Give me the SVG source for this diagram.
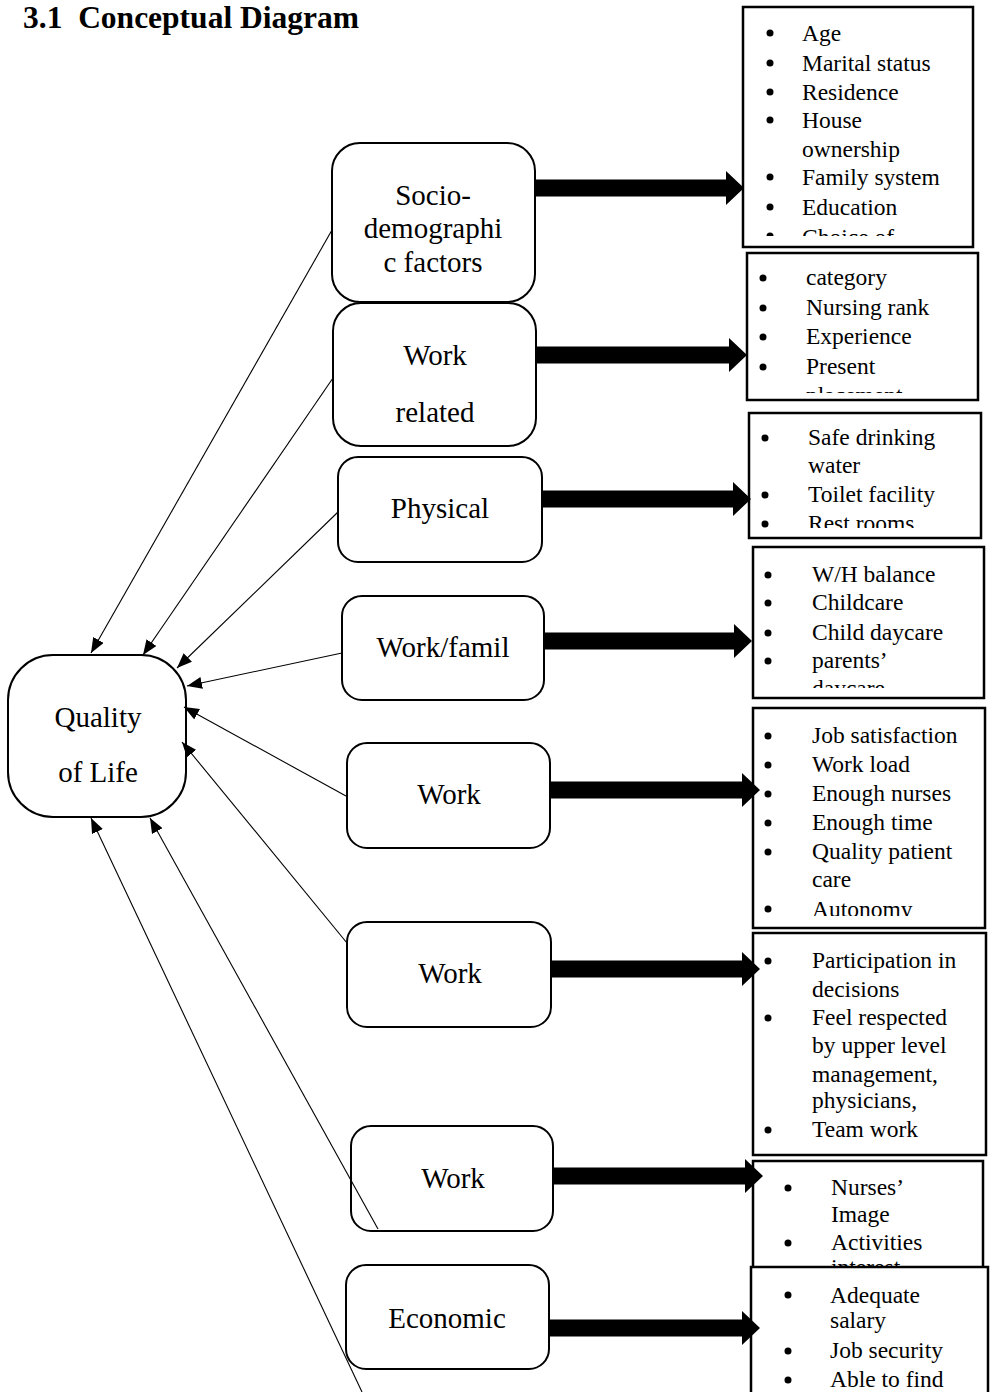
<svg xmlns="http://www.w3.org/2000/svg" width="993" height="1392" viewBox="0 0 993 1392">
<style>
.title{font-family:"Liberation Serif","Times New Roman",serif;font-size:31.5px;font-weight:bold;fill:#000}
.node{fill:#fff;stroke:#000;stroke-width:2}
.nt{font-family:"Liberation Serif","Times New Roman",serif;font-size:29px;fill:#000;text-anchor:middle}
.box{fill:#fff;stroke:#000;stroke-width:2.5}
.bt{font-family:"Liberation Serif","Times New Roman",serif;font-size:23.5px;fill:#000}
.b{fill:#000}
.thin{stroke:#000;stroke-width:1.1;fill:none;marker-end:url(#ah)}
.blk{fill:#000;stroke:none}
</style>
<defs>
<marker id="ah" markerUnits="userSpaceOnUse" markerWidth="15" markerHeight="12" refX="15" refY="6" orient="auto">
<path d="M0,0 L15,6 L0,12 z" fill="#000"/>
</marker>
<clipPath id="c1"><rect x="743" y="7" width="230" height="229"/></clipPath>
<clipPath id="c2"><rect x="747" y="253" width="231" height="140"/></clipPath>
<clipPath id="c3"><rect x="749" y="413" width="232" height="115"/></clipPath>
<clipPath id="c4"><rect x="753" y="547" width="231" height="141"/></clipPath>
<clipPath id="c5"><rect x="753" y="708" width="232" height="208"/></clipPath>
<clipPath id="c7"><rect x="753" y="1161" width="230" height="106"/></clipPath>
<clipPath id="c8"><rect x="751" y="1267" width="237" height="125"/></clipPath>
</defs>

<text class="title" x="23" y="28" xml:space="preserve">3.1  Conceptual Diagram</text>

<g id="qol">
<rect class="node" x="8" y="655" width="178" height="162" rx="45"/>
<text class="nt" x="98" y="727">Quality</text>
<text class="nt" x="98" y="782">of Life</text>
</g>

<g id="n-socio">
<rect class="node" x="332" y="143" width="203" height="159" rx="28"/>
<text class="nt" x="433" y="205">Socio-</text>
<text class="nt" x="433" y="238">demographi</text>
<text class="nt" x="433" y="272">c factors</text>
</g>
<g id="n-workrel">
<rect class="node" x="333" y="303" width="203" height="143" rx="28"/>
<text class="nt" x="435" y="365">Work</text>
<text class="nt" x="435" y="422">related</text>
</g>
<g id="n-physical">
<rect class="node" x="338" y="457" width="204" height="105" rx="20"/>
<text class="nt" x="440" y="518">Physical</text>
</g>
<g id="n-workfam">
<rect class="node" x="342" y="596" width="202" height="104" rx="20"/>
<text class="nt" x="443" y="657">Work/famil</text>
</g>
<g id="n-work1">
<rect class="node" x="347" y="743" width="203" height="105" rx="20"/>
<text class="nt" x="449" y="804">Work</text>
</g>
<g id="n-work2">
<rect class="node" x="347" y="922" width="204" height="105" rx="20"/>
<text class="nt" x="450" y="983">Work</text>
</g>
<g id="n-work3">
<rect class="node" x="351" y="1126" width="202" height="105" rx="20"/>
<text class="nt" x="453" y="1188">Work</text>
</g>
<g id="n-econ">
<rect class="node" x="346" y="1265" width="203" height="104" rx="20"/>
<text class="nt" x="447" y="1328">Economic</text>
</g>

<g id="box-socio">
<rect class="box" x="743" y="7" width="230" height="240"/>
<g clip-path="url(#c1)">
<circle class="b" cx="770" cy="33" r="3.5"/><text class="bt" x="802" y="41">Age</text>
<circle class="b" cx="770" cy="63" r="3.5"/><text class="bt" x="802" y="71">Marital status</text>
<circle class="b" cx="770" cy="92" r="3.5"/><text class="bt" x="802" y="100">Residence</text>
<circle class="b" cx="770" cy="120" r="3.5"/><text class="bt" x="802" y="128">House</text>
<text class="bt" x="802" y="157">ownership</text>
<circle class="b" cx="770" cy="177" r="3.5"/><text class="bt" x="802" y="185">Family system</text>
<circle class="b" cx="770" cy="207" r="3.5"/><text class="bt" x="802" y="215">Education</text>
<circle class="b" cx="770" cy="236" r="3.5"/><text class="bt" x="802" y="245">Choice of</text>
</g>
</g>
<g id="box-workrel">
<rect class="box" x="747" y="253" width="231" height="147"/>
<g clip-path="url(#c2)">
<circle class="b" cx="763" cy="278" r="3.5"/><text class="bt" x="806" y="285">category</text>
<circle class="b" cx="763" cy="308" r="3.5"/><text class="bt" x="806" y="315">Nursing rank</text>
<circle class="b" cx="763" cy="337" r="3.5"/><text class="bt" x="806" y="344">Experience</text>
<circle class="b" cx="763" cy="367" r="3.5"/><text class="bt" x="806" y="374">Present</text>
<text class="bt" x="806" y="403">placement</text>
</g>
</g>
<g id="box-physical">
<rect class="box" x="749" y="413" width="232" height="125"/>
<g clip-path="url(#c3)">
<circle class="b" cx="765" cy="438" r="3.5"/><text class="bt" x="808" y="445">Safe drinking</text>
<text class="bt" x="808" y="473">water</text>
<circle class="b" cx="765" cy="495" r="3.5"/><text class="bt" x="808" y="502">Toilet facility</text>
<circle class="b" cx="765" cy="524" r="3.5"/><text class="bt" x="808" y="531">Rest rooms</text>
</g>
</g>
<g id="box-workfam">
<rect class="box" x="753" y="547" width="231" height="151"/>
<g clip-path="url(#c4)">
<circle class="b" cx="768" cy="575" r="3.5"/><text class="bt" x="812" y="582">W/H balance</text>
<circle class="b" cx="768" cy="603" r="3.5"/><text class="bt" x="812" y="610">Childcare</text>
<circle class="b" cx="768" cy="633" r="3.5"/><text class="bt" x="812" y="640">Child daycare</text>
<circle class="b" cx="768" cy="661" r="3.5"/><text class="bt" x="812" y="668">parents’</text>
<text class="bt" x="812" y="696">daycare</text>
</g>
</g>
<g id="box-work1">
<rect class="box" x="753" y="708" width="232" height="220"/>
<g clip-path="url(#c5)">
<circle class="b" cx="768" cy="736" r="3.5"/><text class="bt" x="812" y="743">Job satisfaction</text>
<circle class="b" cx="768" cy="765" r="3.5"/><text class="bt" x="812" y="772">Work load</text>
<circle class="b" cx="768" cy="794" r="3.5"/><text class="bt" x="812" y="801">Enough nurses</text>
<circle class="b" cx="768" cy="823" r="3.5"/><text class="bt" x="812" y="830">Enough time</text>
<circle class="b" cx="768" cy="852" r="3.5"/><text class="bt" x="812" y="859">Quality patient</text>
<text class="bt" x="812" y="887">care</text>
<circle class="b" cx="768" cy="909" r="3.5"/><text class="bt" x="812" y="917">Autonomy</text>
</g>
</g>
<g id="box-work2">
<rect class="box" x="753" y="933" width="233" height="222"/>
<circle class="b" cx="768" cy="961" r="3.5"/><text class="bt" x="812" y="968">Participation in</text>
<text class="bt" x="812" y="997">decisions</text>
<circle class="b" cx="768" cy="1018" r="3.5"/><text class="bt" x="812" y="1025">Feel respected</text>
<text class="bt" x="812" y="1053">by upper level</text>
<text class="bt" x="812" y="1082">management,</text>
<text class="bt" x="812" y="1108">physicians,</text>
<circle class="b" cx="768" cy="1130" r="3.5"/><text class="bt" x="812" y="1137">Team work</text>
</g>
<g id="box-work3">
<rect class="box" x="753" y="1161" width="230" height="112"/>
<g clip-path="url(#c7)">
<circle class="b" cx="788" cy="1188" r="3.5"/><text class="bt" x="831" y="1195">Nurses’</text>
<text class="bt" x="831" y="1222">Image</text>
<circle class="b" cx="788" cy="1243" r="3.5"/><text class="bt" x="831" y="1250">Activities</text>
<text class="bt" x="831" y="1275" font-size="22">interest</text>
</g>
</g>
<g id="box-econ">
<rect class="box" x="751" y="1267" width="237" height="140"/>
<g clip-path="url(#c8)">
<circle class="b" cx="788" cy="1295" r="3.5"/><text class="bt" x="830" y="1303">Adequate</text>
<text class="bt" x="830" y="1328">salary</text>
<circle class="b" cx="788" cy="1351" r="3.5"/><text class="bt" x="830" y="1358">Job security</text>
<circle class="b" cx="788" cy="1380" r="3.5"/><text class="bt" x="830" y="1387">Able to find</text>
</g>
</g>

<g id="connectors">
<polygon class="blk" points="535,179.5 726,179.5 726,171 744,188 726,205 726,196.5 535,196.5"/>
<polygon class="blk" points="537,346.5 729,346.5 729,338 747,355 729,372 729,363.5 537,363.5"/>
<polygon class="blk" points="542,490.5 733,490.5 733,482 751,499 733,516 733,507.5 542,507.5"/>
<polygon class="blk" points="544,632.5 734,632.5 734,624 752,641 734,658 734,649.5 544,649.5"/>
<polygon class="blk" points="550,781.5 742,781.5 742,773 760,790 742,807 742,798.5 550,798.5"/>
<polygon class="blk" points="551,960.5 742,960.5 742,952 760,969 742,986 742,977.5 551,977.5"/>
<polygon class="blk" points="553,1167.5 745,1167.5 745,1159 763,1176 745,1193 745,1184.5 553,1184.5"/>
<polygon class="blk" points="549,1319.5 742,1319.5 742,1311 760,1328 742,1345 742,1336.5 549,1336.5"/>
<line class="thin" x1="332" y1="230" x2="91" y2="653"/>
<line class="thin" x1="333" y1="378" x2="143" y2="655"/>
<line class="thin" x1="338" y1="512" x2="177" y2="668"/>
<line class="thin" x1="342" y1="653" x2="187" y2="686"/>
<line class="thin" x1="346" y1="796" x2="184" y2="707"/>
<line class="thin" x1="347" y1="943" x2="182" y2="742"/>
<line class="thin" x1="378" y1="1229" x2="150" y2="818"/>
<line class="thin" x1="362" y1="1392" x2="91" y2="818"/>
</g>
</svg>
